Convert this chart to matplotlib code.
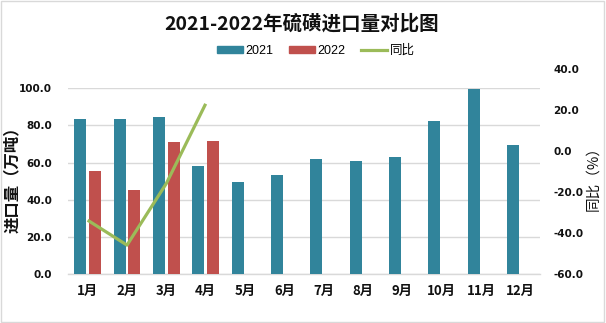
import matplotlib
matplotlib.use("Agg")
import matplotlib.pyplot as plt
from matplotlib.patches import Patch, Rectangle
from matplotlib.lines import Line2D
import numpy as np

# Monthly sulphur imports (10k tonnes) and year-on-year change (%)
months = ["1月", "2月", "3月", "4月", "5月", "6月", "7月", "8月", "9月", "10月", "11月", "12月"]
imports_2021 = [83.6, 83.6, 84.3, 58.0, 49.4, 53.2, 61.8, 60.7, 62.8, 82.2, 99.4, 69.7]
imports_2022 = [55.3, 45.1, 70.9, 71.4]
yoy_change = [-33.9, -46.1, -15.9, 23.1]

left_ticks = [0, 20, 40, 60, 80, 100]
right_ticks = [-60, -40, -20, 0, 20, 40]

C2021 = "#31849B"
C2022 = "#C0504D"
CLINE = "#9BBB59"
GRID = "#d9d9d9"
CJK = ["Noto Sans CJK SC", "DejaVu Sans"]

W, H = 606, 323
fig = plt.figure(figsize=(W / 100, H / 100), dpi=100)
fig.patch.set_facecolor("white")


def fx(px):
    return px / W


def fy(py):
    return 1 - py / H


# bar axes (left scale)
ax = fig.add_axes([fx(68), fy(274), fx(540) - fx(68), fy(88.3) - fy(274)])
x = np.arange(len(months))
off, bw = 0.19, 0.305
ax.bar(x - off, imports_2021, width=bw, color=C2021, zorder=3)
ax.bar(x[:len(imports_2022)] + off, imports_2022, width=bw, color=C2022, zorder=3)
ax.set_xlim(-0.5, len(months) - 0.5)
ax.set_ylim(0, 100)
ax.set_yticks(left_ticks)
ax.set_yticklabels([f"{v:.1f}" for v in left_ticks],
                   fontfamily="DejaVu Sans", fontweight="bold", fontsize=7.5, color="#111111")
ax.set_xticks(x)
ax.set_xticklabels(months, fontfamily=CJK, fontweight="bold", fontsize=9.5, color="#111111")
ax.tick_params(axis="y", length=0, pad=11.5)
ax.tick_params(axis="x", length=0, pad=7)
ax.grid(axis="y", color=GRID, linewidth=1, zorder=0)
for s in ["top", "right", "left"]:
    ax.spines[s].set_visible(False)
ax.spines["bottom"].set_color(GRID)
ax.spines["bottom"].set_linewidth(1)
ax.set_facecolor("none")

# year-on-year line axes (right scale)
ax2 = fig.add_axes([fx(68), fy(273.5), fx(540) - fx(68), fy(69.3) - fy(273.5)])
ax2.set_xlim(-0.5, len(months) - 0.5)
ax2.set_ylim(-60, 40)
ax2.plot(x[:len(yoy_change)], yoy_change, color=CLINE, linewidth=2.3, zorder=4,
         solid_capstyle="butt")
ax2.set_facecolor("none")
for s in ax2.spines.values():
    s.set_visible(False)
ax2.set_xticks([])
ax2.yaxis.tick_right()
ax2.set_yticks(right_ticks)
ax2.set_yticklabels([f"{v:.1f}" for v in right_ticks],
                    fontfamily="DejaVu Sans", fontweight="bold", fontsize=7.5, color="#111111")
ax2.tick_params(axis="y", length=0, pad=9.4)

# title and axis titles
fig.text(fx(302), fy(24), "2021-2022年硫磺进口量对比图", ha="center", va="center",
         fontfamily=CJK, fontweight="bold", fontsize=14, color="#111111")
fig.text(fx(12), fy(176), "进口量（万吨）", ha="center", va="center", rotation=90,
         fontfamily=CJK, fontweight="bold", fontsize=11.8, color="#111111")
fig.text(fx(593), fy(175), "同比（%）", ha="center", va="center", rotation=90,
         fontfamily=CJK, fontsize=10.5, color="#111111")

# legend
handles = [Patch(color=C2021), Patch(color=C2022),
           Line2D([0], [0], color=CLINE, linewidth=2.3)]
fig.legend(handles, ["2021", "2022", "同比"], loc="center", bbox_to_anchor=(fx(316), fy(50.8)),
           ncol=3, frameon=False, prop={"family": ["Liberation Sans", "Noto Sans CJK SC"], "size": 9},
           handlelength=2.08, handleheight=0.4, handletextpad=0.2, columnspacing=1.25,
           borderpad=0, borderaxespad=0)

# chart border
fig.patches.append(Rectangle((fx(0.5), fy(321.5)), fx(604) - fx(0.5), fy(0.5) - fy(321.5),
                             transform=fig.transFigure, fill=False, edgecolor=GRID, linewidth=1))

fig.savefig("out.png", dpi=100, facecolor="white")
